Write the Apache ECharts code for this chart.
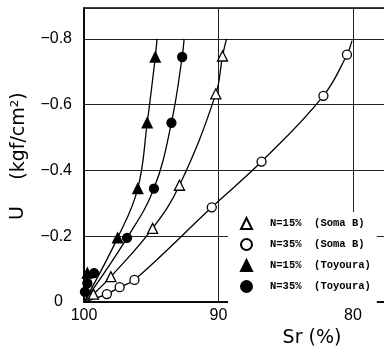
<!DOCTYPE html>
<html>
<head>
<meta charset="utf-8">
<script src="https://cdn.jsdelivr.net/npm/echarts@6/dist/echarts.min.js"></script>
<style>
html,body{margin:0;padding:0;background:#fff;}
#c{width:384px;height:347px;}
</style>
</head>
<body>
<div id="c"></div>
<script>
// ---- data (x = Sr %, y = -U kgf/cm2) ----
const legendNames = ['N=15%  (Soma B)', 'N=35%  (Soma B)', 'N=15%  (Toyoura)', 'N=35%  (Toyoura)'];
const xTicks = [100, 90, 80];
const yTicks = [0, 0.2, 0.4, 0.6, 0.8];

// measured points (markers)
const somaB15 = [[99.3,0.024],[98.0,0.077],[94.9,0.224],[92.9,0.355],[90.2,0.633],[89.7,0.748]];
const somaB35 = [[98.3,0.024],[97.35,0.045],[96.25,0.067],[90.5,0.288],[86.8,0.427],[82.2,0.627],[80.45,0.752]];
const toyo15  = [[99.75,0.088],[97.5,0.195],[96.0,0.345],[95.3,0.545],[94.7,0.745]];
const toyo35  = [[99.93,0.031],[99.75,0.057],[99.25,0.088],[96.8,0.195],[94.8,0.345],[93.5,0.545],[92.7,0.745]];

// fitted curves
const curveSomaB15 = [[100,0],[99.3,0.024],[98.0,0.077],[94.9,0.224],[92.9,0.355],[90.2,0.633],[89.7,0.748],[89.4,0.8]];
const curveSomaB35 = [[100,0],[98.3,0.024],[97.35,0.045],[96.25,0.067],[90.5,0.288],[86.8,0.427],[82.2,0.627],[80.45,0.752],[80.07,0.795]];
const curveToyo15  = [[100,0],[97.5,0.195],[96.0,0.345],[95.3,0.545],[94.7,0.745],[94.57,0.8]];
const curveToyo35  = [[100,0],[96.8,0.195],[94.8,0.345],[93.5,0.545],[92.7,0.745],[92.56,0.8]];

const chart = echarts.init(document.getElementById('c'), null, {renderer:'canvas'});

function curve(data){
  return {type:'line', data:data, smooth:0.4, showSymbol:false, silent:true, z:2,
          lineStyle:{color:'#000', width:1.3}};
}
function marks(name, data, symbol, filled, size){
  return {type:'scatter', name:name, data:data, symbol:symbol, symbolSize:size, z:3,
          itemStyle:{color: filled ? '#000' : '#fff', borderColor:'#000', borderWidth:1.3, opacity:1}};
}

const option = {
  animation:false,
  backgroundColor:'#fff',
  grid:{left:84, top:8, height:294, width:403.5, outerBoundsMode:'none', containLabel:false,
        show:true, borderColor:'#000', borderWidth:1.5, backgroundColor:'transparent'},
  xAxis:{
    type:'value', inverse:true, min:70, max:100, interval:10,
    axisLine:{show:true, lineStyle:{color:'#000', width:1.5}},
    axisTick:{show:false},
    splitLine:{show:true, lineStyle:{color:'#222', width:1}},
    axisLabel:{color:'#000', fontFamily:'Liberation Sans', fontSize:16, margin:6,
      formatter:function(v){ return xTicks.indexOf(v) >= 0 ? String(v) : ''; }}
  },
  yAxis:{
    type:'value', min:0, max:0.894, interval:0.2,
    axisLine:{show:true, lineStyle:{color:'#000', width:1.5}},
    axisTick:{show:false},
    splitLine:{show:true, lineStyle:{color:'#222', width:1}},
    axisLabel:{color:'#000', fontFamily:'Liberation Sans', fontSize:16, margin:12, showMaxLabel:false,
      formatter:function(v){
        const t = yTicks.find(function(k){return Math.abs(k-v)<1e-6;});
        if (t === undefined) return '';
        return t === 0 ? '{z|0}' : '\u2212' + t.toFixed(1);
      },
      rich:{z:{fontFamily:'Liberation Sans', fontSize:16, color:'#000', padding:[0,9,0,0]}}
    }
  },
  legend:{
    data:legendNames, orient:'vertical', left:228, top:212,
    padding:[5,6,10,12], itemGap:8, itemWidth:11, itemHeight:11,
    backgroundColor:'#fff',
    textStyle:{fontFamily:'Liberation Mono', fontSize:10.5, fontWeight:'bold', color:'#000', padding:[0,0,0,13]}
  },
  graphic:[
    {type:'text', x:18, y:213, rotation:Math.PI/2,
     style:{text:'U', font:'19px "DejaVu Sans"', fill:'#000', align:'center', verticalAlign:'middle'}},
    {type:'text', x:19, y:136, rotation:Math.PI/2,
     style:{text:'(kgf/cm\u00B2)', font:'19px "DejaVu Sans"', fill:'#000', align:'center', verticalAlign:'middle'}},
    {type:'text', x:312, y:338,
     style:{text:'Sr (%)', font:'19px "DejaVu Sans"', fill:'#000', align:'center', verticalAlign:'middle'}}
  ],
  series:[
    curve(curveSomaB15), curve(curveSomaB35), curve(curveToyo15), curve(curveToyo35),
    marks(legendNames[0], somaB15, 'triangle', false, 10),
    marks(legendNames[1], somaB35, 'circle', false, 9),
    marks(legendNames[2], toyo15, 'triangle', true, 10),
    marks(legendNames[3], toyo35, 'circle', true, 9)
  ]
};
chart.setOption(option);
</script>
</body>
</html>
